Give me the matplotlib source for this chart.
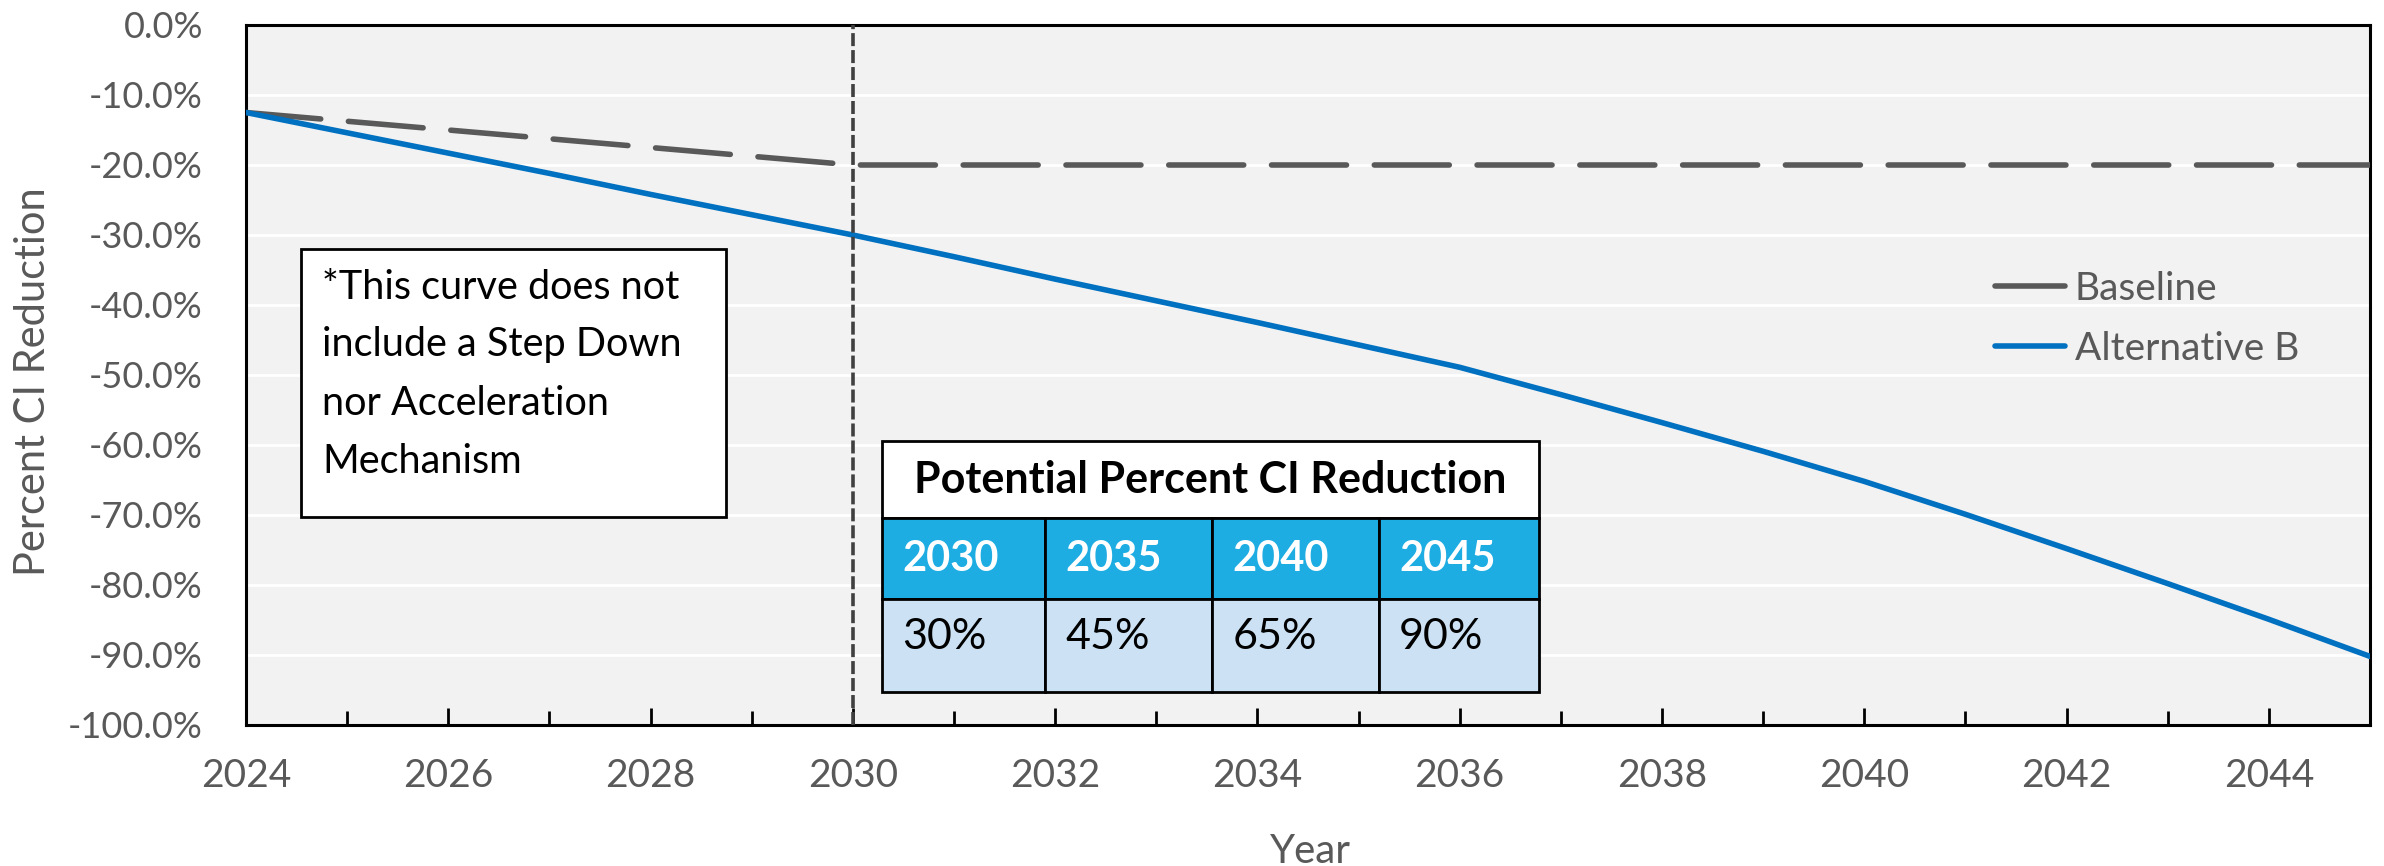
import matplotlib.pyplot as plt
from matplotlib.patches import Rectangle
from matplotlib.ticker import MultipleLocator, FuncFormatter

# ============================================================
# Data
# ============================================================
years = list(range(2024, 2046))
baseline = [-12.5, -13.75, -15.0, -16.25, -17.5, -18.75, -20.0,
            -20.0, -20.0, -20.0, -20.0, -20.0, -20.0, -20.0, -20.0,
            -20.0, -20.0, -20.0, -20.0, -20.0, -20.0, -20.0]
alt_b = [-12.5, -15.4, -18.3, -21.2, -24.2, -27.1, -30.0,
         -33.1, -36.3, -39.4, -42.5, -45.7, -48.9, -52.8, -56.8,
         -60.9, -65.2, -69.9, -74.8, -79.8, -84.9, -90.2]

table_title = "Potential Percent CI Reduction"
table_years = ["2030", "2035", "2040", "2045"]
table_values = ["30%", "45%", "65%", "90%"]

note_lines = ["*This curve does not", "include a Step Down",
              "nor Acceleration", "Mechanism"]

# ============================================================
# Plot
# ============================================================
plt.rcParams['font.family'] = ['Lato', 'DejaVu Sans']
GREY = "#595959"

fig = plt.figure(figsize=(23.84, 8.66), dpi=100)
ax = fig.add_axes([246 / 2384, 1 - 725 / 866, 2124 / 2384, 700 / 866])
ax.set_facecolor("#F2F2F2")

ax.plot(years, baseline, color=GREY, linewidth=4, dashes=(13.5, 5),
        dash_capstyle='round', label="Baseline", zorder=3)
ax.plot(years, alt_b, color="#0070C0", linewidth=4,
        solid_capstyle='round', label="Alternative B", zorder=3)
ax.axvline(2030, color="#404040", linewidth=2.6, dashes=(3.6, 1.1), zorder=4)

ax.set_xlim(2024, 2045)
ax.set_ylim(-100, 0)
ax.yaxis.set_major_locator(MultipleLocator(10))
ax.yaxis.set_major_formatter(FuncFormatter(lambda v, p: f"{v:.1f}%"))
ax.xaxis.set_major_locator(MultipleLocator(2))
ax.xaxis.set_minor_locator(MultipleLocator(1))
ax.grid(axis='y', color='white', linewidth=2)
ax.set_axisbelow(True)

ax.tick_params(axis='x', which='major', direction='in', length=12, width=2,
               labelsize=28, labelcolor=GREY, pad=24)
ax.tick_params(axis='x', which='minor', direction='in', length=10, width=2)
ax.tick_params(axis='y', length=0, labelsize=26, labelcolor=GREY, pad=31)
for s in ax.spines.values():
    s.set_linewidth(2.2)
    s.set_color("black")

ax.set_xlabel("Year", fontsize=29, color=GREY)
ax.set_ylabel("Percent CI Reduction", fontsize=30, color=GREY)
ax.xaxis.set_label_coords(0.501, -0.181)
ax.yaxis.set_label_coords(-0.1003, 0.49)
ax.xaxis.label.set_verticalalignment('center')
ax.yaxis.label.set_verticalalignment('center')

# legend without frame, right side
leg = ax.legend(loc='center left', bbox_to_anchor=(0.8235, 0.58), frameon=False,
                fontsize=28, labelcolor=GREY, handlelength=1.8, handletextpad=0.25,
                labelspacing=0.62, borderpad=0, borderaxespad=0)

# --- note box ---
ax.add_patch(Rectangle((0.0259, 0.297), 0.2, 0.383, transform=ax.transAxes,
                       facecolor='white', edgecolor='black', linewidth=2, zorder=5))
for line, yc in zip(note_lines, [0.6257, 0.5429, 0.4586, 0.376]):
    ax.text(0.0358, yc, line, transform=ax.transAxes, fontsize=28.5,
            va='center', ha='left', color='black', zorder=6)

# --- table ---
t_left, t_right = 0.2994, 0.6088
t_top, t_mid1, t_mid2, t_bot = 0.4057, 0.2957, 0.18, 0.0471
col_edges = [t_left, 0.3762, 0.4548, 0.5334, t_right]
ax.add_patch(Rectangle((t_left, t_mid1), t_right - t_left, t_top - t_mid1,
                       transform=ax.transAxes, facecolor='white',
                       edgecolor='black', linewidth=2, zorder=5))
ax.text((t_left + t_right) / 2, (t_top + t_mid1) / 2, table_title,
        transform=ax.transAxes, fontsize=31, fontweight='bold',
        ha='center', va='center', zorder=6)
for i in range(4):
    x0, x1 = col_edges[i], col_edges[i + 1]
    ax.add_patch(Rectangle((x0, t_mid2), x1 - x0, t_mid1 - t_mid2,
                           transform=ax.transAxes, facecolor='#1EADE3',
                           edgecolor='black', linewidth=2, zorder=5))
    ax.add_patch(Rectangle((x0, t_bot), x1 - x0, t_mid2 - t_bot,
                           transform=ax.transAxes, facecolor='#CCE2F4',
                           edgecolor='black', linewidth=2, zorder=5))
    ax.text(x0 + 0.0095, (t_mid1 + t_mid2) / 2, table_years[i],
            transform=ax.transAxes, fontsize=30, fontweight='bold',
            color='white', ha='left', va='center', zorder=6)
    ax.text(x0 + 0.0095, (t_mid2 + t_bot) / 2 + 0.012, table_values[i],
            transform=ax.transAxes, fontsize=31, color='black',
            ha='left', va='center', zorder=6)

plt.savefig("out.png", dpi=100)
